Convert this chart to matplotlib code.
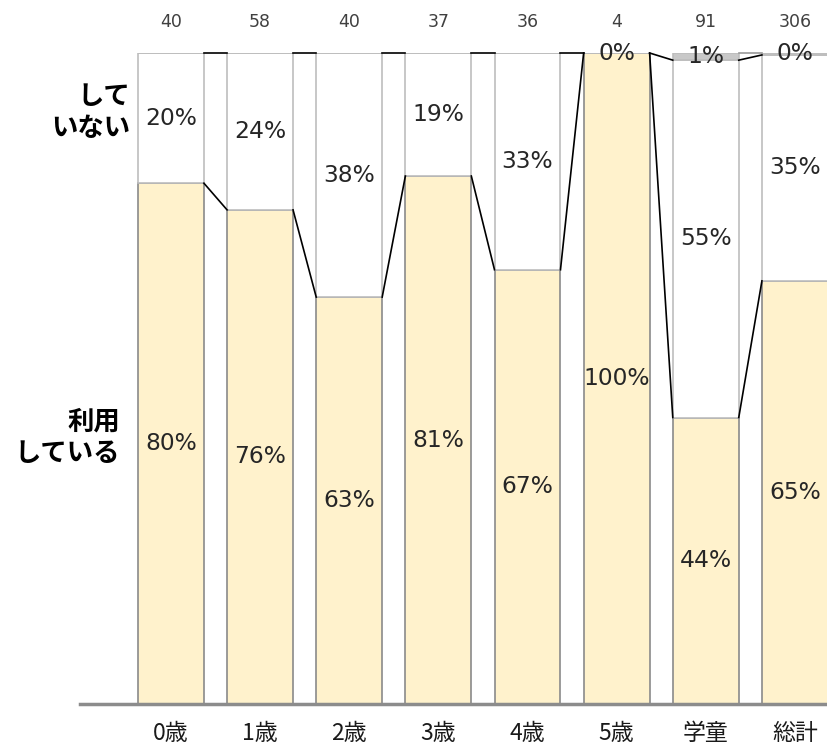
import matplotlib
matplotlib.use("Agg")
import matplotlib.pyplot as plt

plt.rcParams['font.family'] = ['Noto Sans CJK JP', 'DejaVu Sans']

categories = ["0歳", "1歳", "2歳", "3歳", "4歳", "5歳", "学童", "総計"]
counts = [40, 58, 40, 37, 36, 4, 91, 306]
using = [80.0, 75.9, 62.5, 81.1, 66.7, 100.0, 44.0, 65.0]
not_using = [20.0, 24.1, 37.5, 18.9, 33.3, 0.0, 54.9, 34.7]
no_answer = [0.0, 0.0, 0.0, 0.0, 0.0, 0.0, 1.1, 0.3]
row_labels = ["利用\nしている", "して\nいない"]

W, H = 827, 751
fig = plt.figure(figsize=(W / 100, H / 100), dpi=100)
ax = fig.add_axes([80 / W, (H - 704) / H, (W - 80) / W, (704 - 53) / H])
ax.set_xlim(-1.02, 7.36)
ax.set_ylim(0, 100)
ax.axis('off')

bw = 0.74
xs = list(range(len(categories)))
yellow = '#FFF2CC'
edge_dark = '#8A8A8A'
edge_light = '#BDBDBD'

ax.bar(xs, using, width=bw, color=yellow, edgecolor=edge_dark, linewidth=1.2, zorder=2)
ax.bar(xs, not_using, width=bw, bottom=using, color='white', edgecolor=edge_light,
       linewidth=1.2, zorder=2)
bottom3 = [a + b for a, b in zip(using, not_using)]
ax.bar(xs, no_answer, width=bw, bottom=bottom3, color='#C8C8C8', edgecolor=edge_light,
       linewidth=1.2, zorder=2)

# series connector lines
for i in range(len(xs) - 1):
    ax.plot([xs[i] + bw / 2, xs[i + 1] - bw / 2], [using[i], using[i + 1]],
            color='black', lw=1.2, zorder=3, clip_on=False)
    ax.plot([xs[i] + bw / 2, xs[i + 1] - bw / 2], [bottom3[i], bottom3[i + 1]],
            color='black', lw=1.2, zorder=3, clip_on=False)
    if no_answer[i] > 0 and no_answer[i + 1] > 0:
        ax.plot([xs[i] + bw / 2, xs[i + 1] - bw / 2], [100, 100],
                color='#9A9A9A', lw=1.2, zorder=3, clip_on=False)

def fmt(v):
    return f"{int(v + 0.5)}%"

txt = '#262626'
num_font = ['DejaVu Sans']
fs = 16.8
for i in xs:
    ax.text(i, using[i] / 2, fmt(using[i]), ha='center', va='center', fontsize=fs,
            color=txt, zorder=4, family=num_font)
    ax.text(i, using[i] + not_using[i] / 2, fmt(not_using[i]), ha='center',
            va='center', fontsize=fs, color=txt, zorder=4, family=num_font)
    if no_answer[i] > 0:
        ax.text(i, bottom3[i] + no_answer[i] / 2, fmt(no_answer[i]), ha='center',
                va='center', fontsize=fs, color=txt, zorder=4, family=num_font)
    ax.text(i, 104.7, str(counts[i]), ha='center', va='center', fontsize=12.5,
            color='#404040', clip_on=False, family=num_font)
    ax.text(i, -4.6, categories[i], ha='center', va='center', fontsize=16.5,
            color='#1a1a1a', clip_on=False)

# baseline
ax.plot([-1.02, 7.36], [0, 0], color='#8C8C8C', lw=2.5, clip_on=False, zorder=5)

# row labels
ax.text(-0.57, 40.9, row_labels[0], ha='right', va='center', fontsize=19,
        fontweight='bold', multialignment='right', linespacing=1.22, color='black')
ax.text(-0.46, 90.9, row_labels[1], ha='right', va='center', fontsize=19,
        fontweight='bold', multialignment='right', linespacing=1.22, color='black')

fig.savefig('out.png', dpi=100)
